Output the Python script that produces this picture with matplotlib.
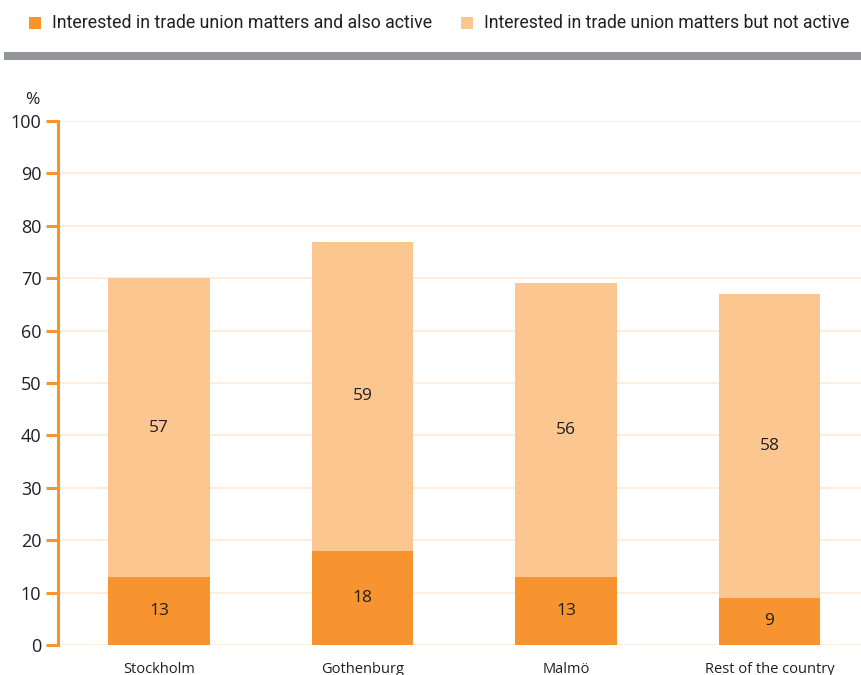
import matplotlib
matplotlib.use("Agg")
import matplotlib.pyplot as plt
from matplotlib.patches import Rectangle
import numpy as np

categories = ["Stockholm", "Gothenburg", "Malmö", "Rest of the country"]
active = [13, 18, 13, 9]
not_active = [57, 59, 56, 58]
series_names = ["Interested in trade union matters and also active",
                "Interested in trade union matters but not active"]
yticks = [0, 10, 20, 30, 40, 50, 60, 70, 80, 90, 100]

DARK = "#F7942F"
LIGHT = "#FCC690"
GRID = "#FDEBD8"
GRAY = "#939598"
TXT = "#231F20"

plt.rcParams['font.family'] = ['Open Sans', 'DejaVu Sans']

W, H = 861, 675
fig = plt.figure(figsize=(W / 100, H / 100), dpi=100)

ax = fig.add_axes([58 / W, 30 / H, (W - 58) / W, (645 - 121) / H])
x = np.arange(len(categories))
ax.set_xlim(-0.497, 3.45)
ax.set_ylim(0, 100)

for yv in yticks:
    ax.axhline(yv, color=GRID, lw=1.2, zorder=0)

b1 = ax.bar(x, active, width=0.5, color=DARK, zorder=2)
b2 = ax.bar(x, not_active, width=0.5, bottom=active, color=LIGHT, zorder=2)

for i in range(len(categories)):
    ax.text(x[i], active[i] / 2, str(active[i]), ha='center', va='center',
            fontsize=12.5, color=TXT, zorder=3)
    ax.text(x[i], active[i] + not_active[i] / 2, str(not_active[i]),
            ha='center', va='center', fontsize=12.5, color=TXT, zorder=3)

for s in ['top', 'right', 'bottom']:
    ax.spines[s].set_visible(False)
ax.spines['left'].set_color(DARK)
ax.spines['left'].set_linewidth(2.2)
ax.spines['left'].set_bounds(0, 100)

ax.set_yticks(yticks)
ax.set_yticklabels([str(v) for v in yticks], fontsize=13, color=TXT)
ax.tick_params(axis='y', length=9, width=2.2, color=DARK, pad=3)
ax.set_xticks(x)
ax.set_xticklabels(categories, fontsize=10.5, color=TXT)
ax.tick_params(axis='x', length=0, pad=12)

fig.text(32 / W, 1 - 100 / H, "%", ha='center', va='center', fontsize=12.5, color=TXT)

# top gray rule
fig.add_artist(Rectangle((4 / W, 1 - 60 / H), (W - 4) / W, 8 / H,
                         transform=fig.transFigure, color=GRAY, lw=0))

# legend
leg_fam = ['Roboto', 'DejaVu Sans']
fig.add_artist(Rectangle((29 / W, 1 - 29 / H), 12 / W, 12 / H,
                         transform=fig.transFigure, color=DARK, lw=0))
t1 = fig.text(52 / W, 1 - 23 / H, series_names[0], ha='left', va='center',
              fontsize=13, color=TXT, family=leg_fam)
fig.add_artist(Rectangle((461 / W, 1 - 29 / H), 12 / W, 12 / H,
                         transform=fig.transFigure, color=LIGHT, lw=0))
t2 = fig.text(484 / W, 1 - 23 / H, series_names[1], ha='left', va='center',
              fontsize=13, color=TXT, family=leg_fam)

# fit legend texts to the widths seen in the reference
fig.canvas.draw()
r = fig.canvas.get_renderer()
for t, target in ((t1, 380), (t2, 367)):
    w = t.get_window_extent(r).width
    t.set_fontsize(13 * target / w)

fig.savefig("out.png", dpi=100)
